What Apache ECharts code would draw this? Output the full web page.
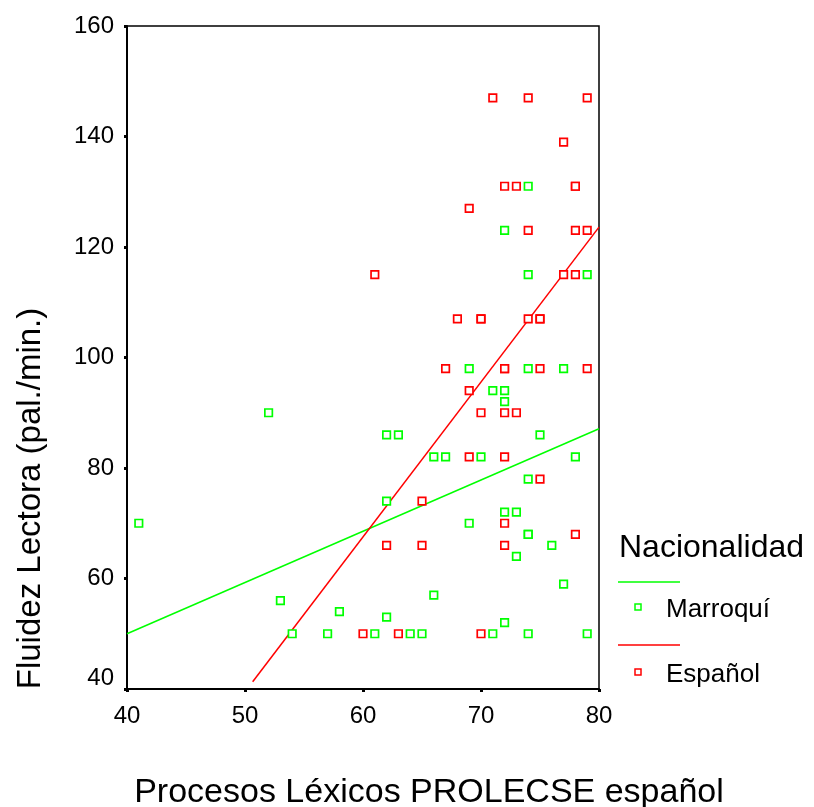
<!DOCTYPE html>
<html>
<head>
<meta charset="utf-8">
<script src="https://cdn.jsdelivr.net/npm/echarts@6/dist/echarts.min.js"></script>
<style>html,body{margin:0;padding:0;background:#fff}#c{width:814px;height:807px}</style>
</head>
<body>
<div id="c"></div>
<script>
var xTicks = [40, 50, 60, 70, 80];
var yTicks = [40, 60, 80, 100, 120, 140, 160];
var groupNames = ['Marroquí', 'Español'];
var marroqui = [
  [74,131],[72,123],[74,115],[79,115],[69,98],[74,98],[77,98],[71,94],[72,94],[72,92],
  [52,90],[62,86],[63,86],[75,86],[66,82],[67,82],[70,82],[78,82],[74,78],[62,74],
  [72,72],[73,72],[41,70],[69,70],[74,68],[74,68],[76,66],[73,64],[77,59],[66,57],
  [53,56],[58,54],[62,53],[72,52],[54,50],[57,50],[61,50],[64,50],[65,50],[71,50],
  [74,50],[79,50]
];
var espanol = [
  [71,147],[74,147],[79,147],[77,139],[72,131],[73,131],[78,131],[78,131],[69,127],
  [74,123],[78,123],[79,123],[61,115],[77,115],[78,115],[68,107],[70,107],[70,107],
  [74,107],[75,107],[75,107],[67,98],[72,98],[72,98],[75,98],[79,98],[69,94],[70,90],
  [72,90],[73,90],[69,82],[72,82],[75,78],[65,74],[72,70],[78,68],[62,66],[65,66],
  [72,66],[60,50],[63,50],[70,50]
];
var marroquiFit = [[40,50],[80,87.1]];
var espanolFit = [[50.65,41.3],[80,123.6]];

var GREEN = '#00ff00', RED = '#ff0000';
var FONT = 'Liberation Sans, Arial, sans-serif';
var chart = echarts.init(document.getElementById('c'));
function pts(color, data, name){
  return {type:'scatter', name:name, data:data, symbol:'rect', symbolSize:7.5,
    itemStyle:{color:'#fff', borderColor:color, borderWidth:1.7, opacity:1}, z:3};
}
function fit(color, data){
  return {type:'line', data:data, symbol:'none', lineStyle:{color:color, width:1.5},
    silent:true, z:2, clip:true};
}
chart.setOption({
  animation:false,
  backgroundColor:'#fff',
  grid:{left:127, right:215, top:26, bottom:118, containLabel:false, outerBoundsMode:'none',
    show:true, borderColor:'#000', borderWidth:1.5, backgroundColor:'transparent'},
  xAxis:{type:'value', min:xTicks[0], max:xTicks[xTicks.length-1], interval:10,
    name:'Procesos Léxicos PROLECSE español', nameLocation:'middle', nameGap:87,
    nameTextStyle:{fontFamily:FONT, fontSize:34, color:'#000', padding:[0,0,0,132]},
    axisLine:{lineStyle:{color:'#000', width:2}},
    axisTick:{show:true, inside:false, length:3, lineStyle:{color:'#000', width:3}},
    axisLabel:{fontFamily:FONT, fontSize:24, color:'#000', margin:15},
    splitLine:{show:false}},
  yAxis:{type:'value', min:yTicks[0], max:yTicks[yTicks.length-1], interval:20,
    name:'Fluidez Lectora (pal./min.)', nameLocation:'middle', nameGap:80,
    nameTextStyle:{fontFamily:FONT, fontSize:33, color:'#000', padding:[0,282,0,0]},
    axisLine:{lineStyle:{color:'#000', width:2}},
    axisTick:{show:true, inside:false, length:3, lineStyle:{color:'#000', width:3}},
    axisLabel:{fontFamily:FONT, fontSize:24, color:'#000', margin:13,
      formatter:function(v){ return v === yTicks[0] ? '{low|' + v + '}' : String(v); },
      rich:{low:{fontFamily:FONT, fontSize:24, color:'#000', padding:[0,0,22,0]}}},
    splitLine:{show:false}},
  series:[
    fit(GREEN, marroquiFit),
    fit(RED, espanolFit),
    pts(GREEN, marroqui, groupNames[0]),
    pts(RED, espanol, groupNames[1])
  ],
  graphic:[
    {type:'text', left:619, top:532, style:{text:'Nacionalidad', font:'32px '+FONT, fill:'#000'}},
    {type:'line', shape:{x1:618,y1:582,x2:680,y2:582}, style:{stroke:GREEN, lineWidth:1.5}},
    {type:'rect', shape:{x:635,y:604,width:6,height:6}, style:{fill:'#fff', stroke:GREEN, lineWidth:1.5}},
    {type:'text', left:666, top:597, style:{text:groupNames[0], font:'26px '+FONT, fill:'#000'}},
    {type:'line', shape:{x1:618,y1:645,x2:680,y2:645}, style:{stroke:RED, lineWidth:1.5}},
    {type:'rect', shape:{x:635,y:669,width:6,height:6}, style:{fill:'#fff', stroke:RED, lineWidth:1.5}},
    {type:'text', left:666, top:662, style:{text:groupNames[1], font:'26px '+FONT, fill:'#000'}}
  ]
});
</script>
</body>
</html>
